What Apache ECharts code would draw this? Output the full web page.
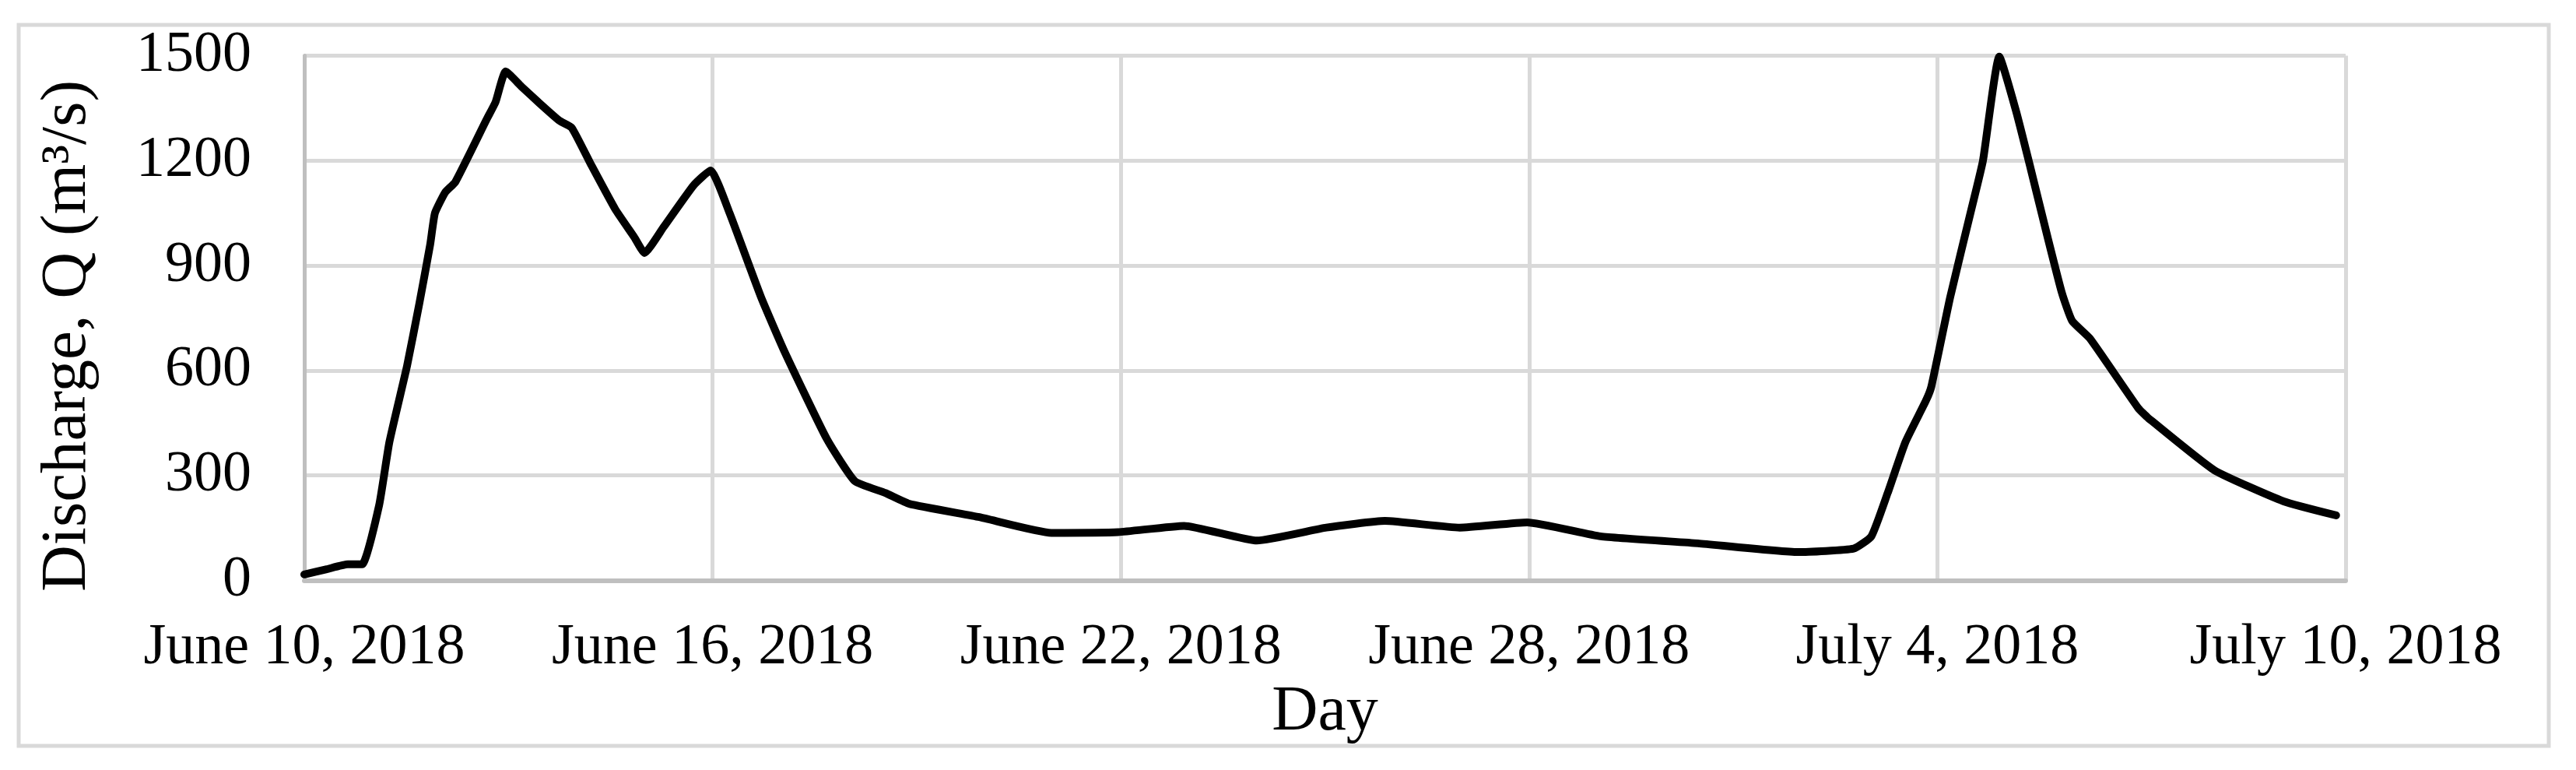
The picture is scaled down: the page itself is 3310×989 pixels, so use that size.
<!DOCTYPE html>
<html>
<head>
<meta charset="utf-8">
<script src="https://cdn.jsdelivr.net/npm/echarts@6/dist/echarts.min.js"></script>
<style>
html,body{margin:0;padding:0;background:#fff;}
#chart{width:3310px;height:989px;}
</style>
</head>
<body>
<div id="chart"></div>
<script>
// days since June 10, 2018 (00:00)
const dayOffset = [0.0, 0.33, 0.64, 0.85, 1.1, 1.25, 1.51, 1.69, 1.85, 1.92, 2.07, 2.22, 2.68, 2.81, 2.96, 3.19, 3.44, 3.75, 3.93, 4.21, 4.57, 4.85, 5.0, 5.28, 5.72, 5.97, 6.25, 6.71, 7.06, 7.68, 8.09, 8.54, 8.89, 9.92, 10.98, 11.96, 12.93, 14.0, 15.02, 15.88, 16.98, 17.97, 19.05, 20.48, 21.95, 22.77, 23.03, 23.27, 23.53, 23.83, 23.91, 24.19, 24.5, 24.67, 24.91, 25.16, 25.37, 25.62, 25.83, 25.98, 26.24, 26.95, 27.1, 28.07, 29.09, 29.86];
// discharge Q (m3/s)
const discharge = [17, 32, 46, 46, 215, 395, 613, 791, 960, 1050, 1109, 1139, 1318, 1367, 1455, 1412, 1367, 1314, 1294, 1190, 1061, 981, 936, 1010, 1129, 1172, 1050, 811, 653, 404, 284, 250, 219, 181, 136, 138, 156, 114, 151, 170, 151, 166, 126, 106, 81, 91, 126, 250, 395, 513, 553, 811, 1061, 1200, 1497, 1339, 1178, 981, 822, 742, 692, 493, 464, 315, 226, 186];
const xTickLabels = ['June 10, 2018', 'June 16, 2018', 'June 22, 2018', 'June 28, 2018', 'July 4, 2018', 'July 10, 2018'];
const yTicks = [0, 300, 600, 900, 1200, 1500];

const seriesData = dayOffset.map((d, i) => [d, discharge[i]]);
const font = 'Liberation Serif';

const chart = echarts.init(document.getElementById('chart'), null, {renderer: 'canvas'});
chart.setOption({
  backgroundColor: '#ffffff',
  animation: false,
  graphic: [{
    type: 'rect',
    shape: {x: 24, y: 32, width: 3251, height: 926},
    style: {fill: 'none', stroke: '#d9d9d9', lineWidth: 5},
    silent: true
  }],
  grid: {left: 391, right: 296, top: 71.5, bottom: 243.5, containLabel: false},
  xAxis: {
    type: 'value',
    min: 0, max: 30, interval: 6,
    name: 'Day',
    nameLocation: 'middle',
    nameGap: 112,
    nameTextStyle: {fontFamily: font, fontSize: 82, color: '#000'},
    axisLine: {show: true, onZero: false, lineStyle: {color: '#bfbfbf', width: 6}},
    axisTick: {show: false},
    axisLabel: {
      fontFamily: font, fontSize: 74, color: '#000', margin: 50,
      formatter: v => xTickLabels[Math.round(v / 6)]
    },
    splitLine: {show: true, lineStyle: {color: '#d9d9d9', width: 5}}
  },
  yAxis: {
    type: 'value',
    min: yTicks[0], max: yTicks[yTicks.length - 1], interval: 300,
    name: 'Discharge, Q (m³/s)',
    nameLocation: 'middle',
    nameRotate: 90,
    nameGap: 262,
    nameTextStyle: {fontFamily: font, fontSize: 83, color: '#000', padding: [0, 46, 0, 0]},
    axisLine: {show: true, lineStyle: {color: '#bfbfbf', width: 5}},
    axisTick: {show: false},
    axisLabel: {fontFamily: font, fontSize: 74, color: '#000', margin: 68, formatter: v => String(v)},
    splitLine: {show: true, lineStyle: {color: '#d9d9d9', width: 5}}
  },
  series: [{
    type: 'line',
    data: seriesData,
    smooth: 0.15,
    showSymbol: false,
    lineStyle: {color: '#000', width: 10, cap: 'round', join: 'round'},
    z: 5
  }]
});
</script>
</body>
</html>
